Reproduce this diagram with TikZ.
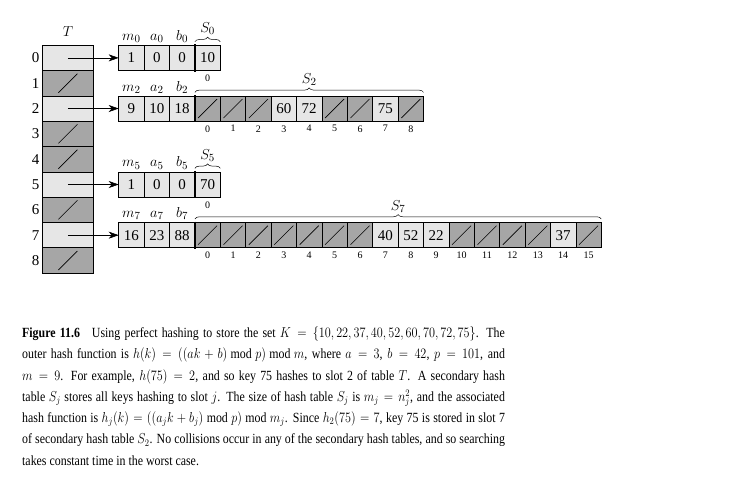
\documentclass[tikz,border=0pt]{standalone}
\usepackage{fontspec}
\setmainfont{Liberation Serif}
\usetikzlibrary{arrows.meta,decorations.pathreplacing,positioning}
\definecolor{keygray}{HTML}{E6E6E6}
\definecolor{nilgray}{HTML}{A6A6A6}

\tikzset{
  slot/.style={draw, line width=0.7pt, fill=keygray, minimum width=25.4pt,
    minimum height=25.33pt, inner sep=0pt, outer sep=0pt,
    font=\fontsize{15}{15}\selectfont},
  nilslot/.style={slot, fill=nilgray, path picture={
    \draw[line width=0.6pt]
      ([shift={(-9.5pt,-9.5pt)}]path picture bounding box.center) --
      ([shift={(9.5pt,9.5pt)}]path picture bounding box.center);}},
  tslot/.style={slot, minimum width=50.8pt},
  tnil/.style={nilslot, minimum width=50.8pt},
  idx/.style={font=\fontsize{10}{10}\selectfont, inner sep=0pt},
  hdr/.style={font=\fontsize{15}{15}\selectfont, inner sep=0pt},
  ptr/.style={-{Stealth[length=10pt,width=7pt,inset=3pt]}, line width=0.6pt},
  sbrace/.style={decorate, decoration={brace, amplitude=4.5pt}, line width=0.5pt}
}

\begin{document}
\begin{tikzpicture}[x=1pt,y=-1pt]
  \fill[white] (0,0) rectangle (732,489);
  \useasboundingbox (0,0) rectangle (732,489);

  % outer table T
  \node[hdr] (Tname) at (67.9,32) {$T$};
  \foreach \i in {0,2,5,7}
    \node[tslot] (T\i) at (67.9,{57.87+25.33*\i}) {};
  \foreach \i in {1,3,4,6,8}
    \node[tnil] (T\i) at (67.9,{57.87+25.33*\i}) {};
  \foreach \i in {0,...,8}
    \node[hdr, anchor=east] (Tidx\i) at ([xshift=-3pt]T\i.west) {\i};

  % parameters m_j, a_j, b_j
  \foreach \j/\mv/\av/\bv in {0/1/0/0,2/9/10/18,5/1/0/0,7/16/23/88}{
    \node[slot] (m\j) at (131.4,{57.87+25.33*\j}) {\mv};
    \node[slot, right=0pt of m\j] (a\j) {\av};
    \node[slot, right=0pt of a\j] (b\j) {\bv};
    \node[hdr, anchor=south] (mlab\j) at ([yshift=2.5pt]m\j.north) {$m_{\j}$};
    \node[hdr, anchor=south] (alab\j) at ([yshift=2.5pt]a\j.north) {$a_{\j}$};
    \node[hdr, anchor=south] (blab\j) at ([yshift=2.5pt]b\j.north) {$b_{\j}$};
    \draw[ptr] (T\j.center) -- (m\j.west);
  }

  % secondary tables S_j
  \node[slot] (s0-0) at (207.6,57.87) {10};
  \node[slot] (s5-0) at (207.6,184.52) {70};
  \foreach \k in {0,1,2,5,6,8}
    \node[nilslot] (s2-\k) at ({207.6+25.4*\k},108.53) {};
  \foreach \k/\v in {3/60,4/72,7/75}
    \node[slot] (s2-\k) at ({207.6+25.4*\k},108.53) {\v};
  \foreach \k in {0,...,6,10,11,12,13,15}
    \node[nilslot] (s7-\k) at ({207.6+25.4*\k},235.18) {};
  \foreach \k/\v in {7/40,8/52,9/22,14/37}
    \node[slot] (s7-\k) at ({207.6+25.4*\k},235.18) {\v};

  % slot numbers
  \node[idx, anchor=north] (n0-0) at ([yshift=-4pt]s0-0.south) {0};
  \node[idx, anchor=north] (n5-0) at ([yshift=-4pt]s5-0.south) {0};
  \foreach \k in {0,...,8}
    \node[idx, anchor=north] (n2-\k) at ([yshift=-4pt]s2-\k.south) {\k};
  \foreach \k in {0,...,15}
    \node[idx, anchor=north] (n7-\k) at ([yshift=-4pt]s7-\k.south) {\k};

  % dividers and braces
  \foreach \j/\last in {0/0,2/8,5/0,7/15}{
    \draw[line width=2.6pt] ([yshift=1pt]s\j-0.north west) -- ([yshift=-1pt]s\j-0.south west);
    \draw[sbrace] ([yshift=3.5pt]s\j-0.north west) -- ([yshift=3.5pt]s\j-\last.north east)
      node[hdr, midway, above=6.5pt] (Slab\j) {$S_{\j}$};
  }

  % caption
  \node[anchor=north west, inner sep=0pt, text width=568pt, align=justify,
    font=\fontsize{14}{21.3}\selectfont, xscale=0.85, transform shape]
    (caption) at (22,326.5) {%
    \textbf{Figure 11.6}\quad Using perfect hashing to store the set $K=\{10,22,37,40,52,60,70,72,75\}$. The\linebreak
    outer hash function is $h(k)=((ak+b)\bmod p)\bmod m$, where $a=3$, $b=42$, $p=101$, and\linebreak
    $m=9$. For example, $h(75)=2$, and so key 75 hashes to slot 2 of table $T$. A secondary hash\linebreak
    table $S_j$ stores all keys hashing to slot $j$. The size of hash table $S_j$ is $m_j=\smash{n_j^2}$, and the associated\linebreak
    hash function is $h_j(k)=((a_jk+b_j)\bmod p)\bmod m_j$. Since $h_2(75)=7$, key 75 is stored in slot 7\linebreak
    of secondary hash table $S_2$. No collisions occur in any of the secondary hash tables, and so searching\linebreak
    takes constant time in the worst case.};
\end{tikzpicture}
\end{document}
